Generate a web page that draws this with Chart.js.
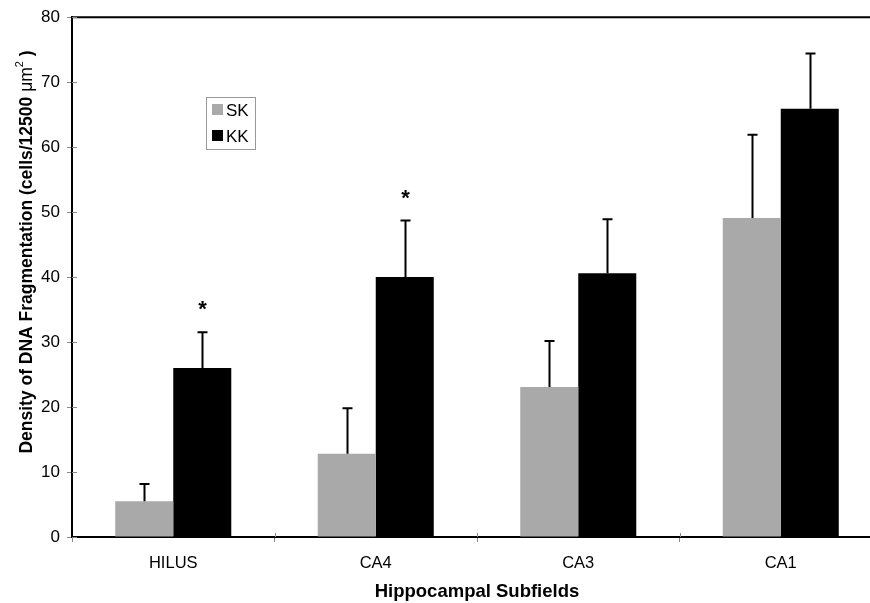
<!DOCTYPE html>
<html>
<head>
<meta charset="utf-8">
<script src="https://cdn.jsdelivr.net/npm/chart.js@4/dist/chart.umd.min.js"></script>
<style>
html,body{margin:0;padding:0;background:#fff;overflow:hidden;}
#wrap{width:870px;height:603px;overflow:hidden;}
canvas{display:block;}
</style>
</head>
<body>
<div id="wrap"><canvas id="c" width="884" height="603"></canvas></div>
<script>
const categories = ["HILUS", "CA4", "CA3", "CA1"];
const skValues = [5.5, 12.8, 23.1, 49.1];
const kkValues = [26.0, 40.0, 40.6, 65.9];
const skErrTop = [8.15, 19.8, 30.15, 61.9];
const kkErrTop = [31.5, 48.7, 48.9, 74.4];
const kkSignificant = [true, true, false, false];
const yTicks = [0, 10, 20, 30, 40, 50, 60, 70, 80];
const yTitleMain = "Density of DNA Fragmentation (cells/12500 ";
const yTitleUnit = "\u03BCm";
const yTitleSup = "2";
const yTitleEnd = " )";
const xTitle = "Hippocampal Subfields";

const errTops = [skErrTop, kkErrTop];

const extrasPlugin = {
  id: 'extras',
  afterDatasetsDraw(chart) {
    const ctx = chart.ctx;
    const y = chart.scales.y;
    const x = chart.scales.x;
    const ca = chart.chartArea;
    ctx.save();
    // error bars (upper only)
    ctx.strokeStyle = '#000';
    ctx.lineWidth = 2;
    chart.data.datasets.forEach((ds, di) => {
      const meta = chart.getDatasetMeta(di);
      meta.data.forEach((bar, i) => {
        const top = y.getPixelForValue(errTops[di][i]);
        const bx = Math.round(bar.x) + 0.5;
        ctx.beginPath();
        ctx.moveTo(bx, bar.y);
        ctx.lineTo(bx, top);
        ctx.moveTo(bx - 5, top);
        ctx.lineTo(bx + 5, top);
        ctx.stroke();
        if (di === 1 && kkSignificant[i]) {
          ctx.fillStyle = '#000';
          ctx.font = 'bold 22px "Liberation Sans", Arial, sans-serif';
          ctx.textAlign = 'center';
          ctx.textBaseline = 'middle';
          ctx.fillText('*', bx, top - 22);
        }
      });
    });
    // top frame line
    ctx.lineWidth = 2;
    ctx.beginPath();
    ctx.moveTo(ca.left, ca.top);
    ctx.lineTo(ca.right + 20, ca.top);
    ctx.stroke();
    // inner tick marks crossing axes
    ctx.strokeStyle = '#888';
    ctx.lineWidth = 1;
    y.ticks.forEach((t, i) => {
      const py = Math.round(y.getPixelForTick(i)) + 0.5;
      ctx.beginPath();
      ctx.moveTo(ca.left, py);
      ctx.lineTo(ca.left + 5, py);
      ctx.stroke();
    });
    for (let i = 1; i < categories.length; i++) {
      const px = Math.round((x.getPixelForValue(i - 1) + x.getPixelForValue(i)) / 2) + 0.5;
      ctx.beginPath();
      ctx.moveTo(px, ca.bottom);
      ctx.lineTo(px, ca.bottom - 4);
      ctx.stroke();
    }
    // legend box
    const lx = 206, ly = 97, lw = 49, lh = 52;
    ctx.fillStyle = '#fff';
    ctx.fillRect(lx, ly, lw, lh);
    ctx.strokeStyle = '#999';
    ctx.lineWidth = 1;
    ctx.strokeRect(lx + 0.5, ly + 0.5, lw, lh);
    ctx.font = '17px "Liberation Sans", Arial, sans-serif';
    ctx.textAlign = 'left';
    ctx.textBaseline = 'middle';
    chart.data.datasets.forEach((ds, di) => {
      const cy = ly + 13 + di * 26;
      ctx.fillStyle = ds.backgroundColor;
      ctx.fillRect(lx + 6, cy - 6, 11, 11);
      ctx.fillStyle = '#000';
      ctx.fillText(ds.label, lx + 20, cy + 1);
    });
    // y title, rotated, with superscript
    ctx.save();
    ctx.translate(27, 252);
    ctx.rotate(-Math.PI / 2);
    ctx.fillStyle = '#000';
    ctx.textBaseline = 'middle';
    const fb = 'bold 17.5px "Liberation Sans", Arial, sans-serif';
    const fn = '17.5px "Liberation Sans", Arial, sans-serif';
    const fs = '11px "Liberation Sans", Arial, sans-serif';
    ctx.font = fb; const w1 = ctx.measureText(yTitleMain).width;
    ctx.font = fn; const w2 = ctx.measureText(yTitleUnit).width;
    ctx.font = fs; const w3 = ctx.measureText(yTitleSup).width;
    ctx.font = fb; const w4 = ctx.measureText(yTitleEnd).width;
    let sx = -(w1 + w2 + w3 + w4) / 2;
    ctx.textAlign = 'left';
    ctx.font = fb; ctx.fillText(yTitleMain, sx, 0); sx += w1;
    ctx.font = fn; ctx.fillText(yTitleUnit, sx, 0); sx += w2;
    ctx.font = fs; ctx.fillText(yTitleSup, sx, -7); sx += w3;
    ctx.font = fb; ctx.fillText(yTitleEnd, sx, 0);
    ctx.restore();
    ctx.restore();
  }
};

new Chart(document.getElementById('c'), {
  type: 'bar',
  data: {
    labels: categories,
    datasets: [
      { label: 'SK', data: skValues, backgroundColor: '#a9a9a9', borderWidth: 0 },
      { label: 'KK', data: kkValues, backgroundColor: '#000000', borderWidth: 0 }
    ]
  },
  options: {
    responsive: false,
    animation: false,
    devicePixelRatio: 1,
    layout: { padding: { top: 17, right: 2, left: 0, bottom: 0 } },
    datasets: { bar: { categoryPercentage: 0.573, barPercentage: 1.0 } },
    plugins: { legend: { display: false }, tooltip: { enabled: false } },
    scales: {
      x: {
        afterFit(s) { s.height = 66; },
        grid: { display: true, drawOnChartArea: false, offset: true, tickLength: 5, color: '#888', lineWidth: 1 },
        border: { display: true, color: '#000', width: 2 },
        ticks: { color: '#000', padding: 12, font: { family: '"Liberation Sans", Arial, sans-serif', size: 16.5 } },
        title: { display: true, text: xTitle, color: '#000', padding: { top: 0, bottom: 0 }, font: { family: '"Liberation Sans", Arial, sans-serif', size: 18.5, weight: 'bold' } }
      },
      y: {
        min: 0, max: 80,
        afterFit(s) { s.width = 72; },
        afterBuildTicks(s) { s.ticks = yTicks.map(v => ({ value: v })); },
        grid: { display: true, drawOnChartArea: false, tickLength: 5, color: '#888', lineWidth: 1 },
        border: { display: true, color: '#000', width: 2 },
        ticks: { color: '#000', padding: 7, font: { family: '"Liberation Sans", Arial, sans-serif', size: 17 } }
      }
    }
  },
  plugins: [extrasPlugin]
});
</script>
</body>
</html>
